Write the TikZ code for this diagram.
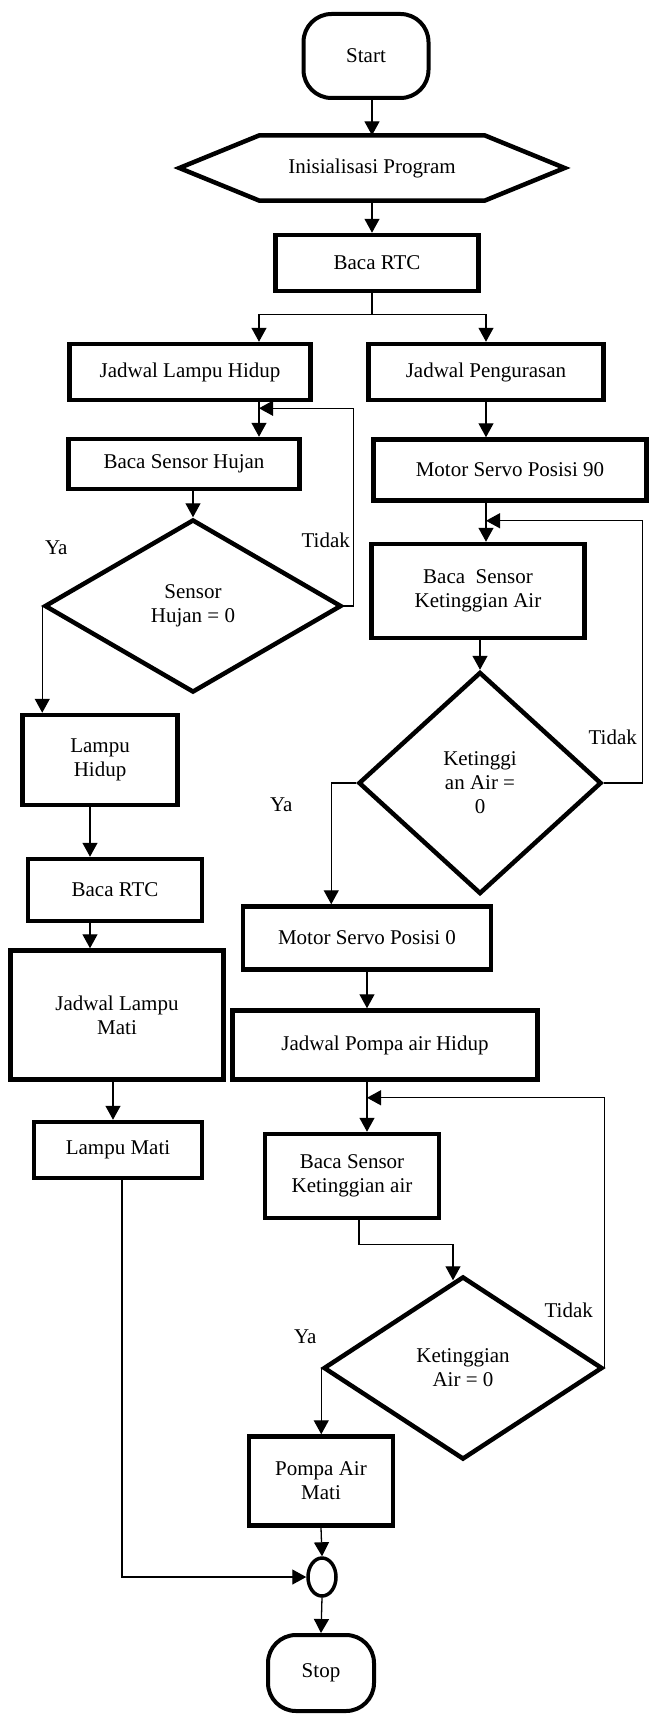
\documentclass[tikz,border=0pt]{standalone}
\usepackage{fontspec}
\setmainfont{Liberation Serif}
\usetikzlibrary{arrows.meta,positioning,shapes.geometric}

\begin{document}
\begin{tikzpicture}[>={Triangle[length=14pt,width=15pt]},x=1pt,y=1pt,line width=1.3pt,font=\fontsize{21}{24}\selectfont]
\tikzstyle{terminal}=[draw,line width=4pt,rounded corners=28pt,align=center]
\tikzstyle{process}=[draw,line width=4.5pt,align=center,inner sep=2pt]
\tikzstyle{decision}=[draw,diamond,line width=4.5pt,align=center,inner sep=0pt]
\tikzstyle{joint}=[draw,ellipse,line width=3.5pt,inner sep=0pt]
\tikzstyle{answer}=[inner sep=0pt]

\useasboundingbox (0,0) rectangle (649,-1715);

\node[terminal,minimum width=125pt,minimum height=84pt] (start) at (366,-56) {Start};
\node (init) [below of=start,node distance=112pt,xshift=6pt,minimum width=384pt,minimum height=64pt] {Inisialisasi Program};
\node[process] (rtc) [below of=init,node distance=95pt,xshift=5pt,minimum width=203pt,minimum height=56pt] {Baca RTC};

% left column
\node[process] (jlh) [below of=rtc,node distance=109pt,xshift=-187pt,minimum width=241pt,minimum height=56pt] {Jadwal Lampu Hidup};
\node[process] (bsh) [below of=jlh,node distance=92pt,xshift=-6pt,minimum width=231pt,minimum height=50pt] {Baca Sensor Hujan};
\node[decision] (sensor) [below of=bsh,node distance=142pt,xshift=9pt,minimum width=297pt,minimum height=173pt] {Sensor\\Hujan = 0};
\node[process] (lhidup) [below of=sensor,node distance=154pt,xshift=-93pt,minimum width=155pt,minimum height=90pt] {Lampu\\Hidup};
\node[process] (rtc2) [below of=lhidup,node distance=130pt,xshift=15pt,minimum width=174pt,minimum height=62pt] {Baca RTC};
\node[process] (jlm) [below of=rtc2,node distance=125pt,xshift=2pt,minimum width=213pt,minimum height=129pt] {Jadwal Lampu\\Mati};
\node[process] (lmati) [below of=jlm,node distance=135pt,xshift=1pt,minimum width=168pt,minimum height=56pt] {Lampu Mati};

% right column
\node[process] (jp) [right of=jlh,node distance=296pt,minimum width=235pt,minimum height=56pt] {Jadwal Pengurasan};
\node[process] (msp90) [below of=jp,node distance=98pt,xshift=24pt,minimum width=273pt,minimum height=61pt] {Motor Servo Posisi 90};
\node[process] (bska) [below of=msp90,node distance=121pt,xshift=-32pt,minimum width=213pt,minimum height=94pt] {Baca\ \ Sensor\\Ketinggian Air};
\node[decision] (level1) [below of=bska,node distance=192pt,xshift=2pt,minimum width=243pt,minimum height=222pt] {Ketinggi\\an Air =\\0};
\node[process] (msp0) [below of=level1,node distance=155pt,xshift=-113pt,minimum width=248pt,minimum height=63pt] {Motor Servo Posisi 0};
\node[process] (jpah) [below of=msp0,node distance=107pt,xshift=18pt,minimum width=305pt,minimum height=69pt] {Jadwal Pompa air Hidup};
\node[process] (bska2) [below of=jpah,node distance=131pt,xshift=-33pt,minimum width=174pt,minimum height=84pt] {Baca Sensor\\Ketinggian air};
\node[decision] (level2) [below of=bska2,node distance=192pt,xshift=111pt,minimum width=279pt,minimum height=183pt] {Ketinggian\\Air = 0};
\node[process] (pam) [below of=level2,node distance=113pt,xshift=-142pt,minimum width=144pt,minimum height=89pt] {Pompa Air\\Mati};
\node[joint] (join) [below of=pam,node distance=96pt,xshift=1pt,minimum width=28pt,minimum height=38pt] {};
\node[terminal] (stop) [below of=join,node distance=96pt,xshift=-1pt,minimum width=106pt,minimum height=76pt] {Stop};

% hexagon round the init text
\draw[line width=4.5pt,line join=miter] (init.west) -- ([xshift=80pt]init.north west) -- ([xshift=-80pt]init.north east)
  -- (init.east) -- ([xshift=-80pt]init.south east) -- ([xshift=80pt]init.south west) -- cycle;

% branch points
\coordinate (split) at ([yshift=-21pt]rtc.south -| init.south);
\coordinate (jlhin) at ([xshift=69pt]jlh.north);
\coordinate (loop1) at ([yshift=-6pt]jlh.south -| jlhin);
\coordinate (loop2) at ([yshift=-18pt]msp90.south -| jp.south);
\coordinate (loop3) at ([yshift=-16pt]jpah.south -| msp0.south);

% labels
\node[answer] (ya1) at ([shift={(14,58)}]sensor.west) {Ya};
\node[answer] (tidak1) at ([shift={(-18,66)}]sensor.east) {Tidak};
\node[answer] (tidak2) at ([shift={(9,46)}]level1.east) {Tidak};
\node[answer] (ya2) at ([shift={(-75,-22)}]level1.west) {Ya};
\node[answer] (tidak3) at ([shift={(-36,58)}]level2.east) {Tidak};
\node[answer] (ya3) at ([shift={(-16,31)}]level2.west) {Ya};

\draw[->] (init.north |- start.south) -- (init.north);
\draw[->] (init.south) -- (init.south |- rtc.north);
\draw (init.south |- rtc.south) -- (split);
\draw[->] (split) -| (jlhin);
\draw[->] (split) -| (jp.north);

\draw[->] (jlh.south -| jlhin) -- (bsh.north -| jlhin);
\draw[->] (sensor.north |- bsh.south) -- (sensor.north);
\draw[->] (sensor.east) -- ++(10,0) |- (loop1);
\draw[->] (sensor.west) -- (sensor.west |- lhidup.north);
\draw[->] ([xshift=-10pt]lhidup.south) -- ([xshift=-10pt]lhidup.south |- rtc2.north);
\draw[->] ([xshift=-25pt]rtc2.south) -- ([xshift=-25pt]rtc2.south |- jlm.north);
\draw[->] ([xshift=-4pt]jlm.south) -- ([xshift=-4pt]jlm.south |- lmati.north);
\draw[->] ([xshift=4pt]lmati.south) |- (join.west);

\draw[->] (jp.south) -- (jp.south |- msp90.north);
\draw[->] (jp.south |- msp90.south) -- (jp.south |- bska.north);
\draw[->] (level1.north |- bska.south) -- (level1.north);
\draw[->] (level1.east) -- ++(39,0) |- (loop2);
\draw[->] (level1.west) -- ++(-25,0) coordinate (ya2line) -- (ya2line |- msp0.north);
\draw[->] (msp0.south) -- (msp0.south |- jpah.north);
\draw[->] (msp0.south |- jpah.south) -- (msp0.south |- bska2.north);
\draw[->] ([xshift=7pt]bska2.south) -- ++(0,-24) -| ([shift={(-10pt,-6pt)}]level2.north);
\draw[->] (level2.east) |- (loop3);
\draw[->] (level2.west) -- (level2.west |- pam.north);
\draw[->] (pam.south) -- (join.north);
\draw[->] (join.south) -- (stop.north);
\end{tikzpicture}
\end{document}
